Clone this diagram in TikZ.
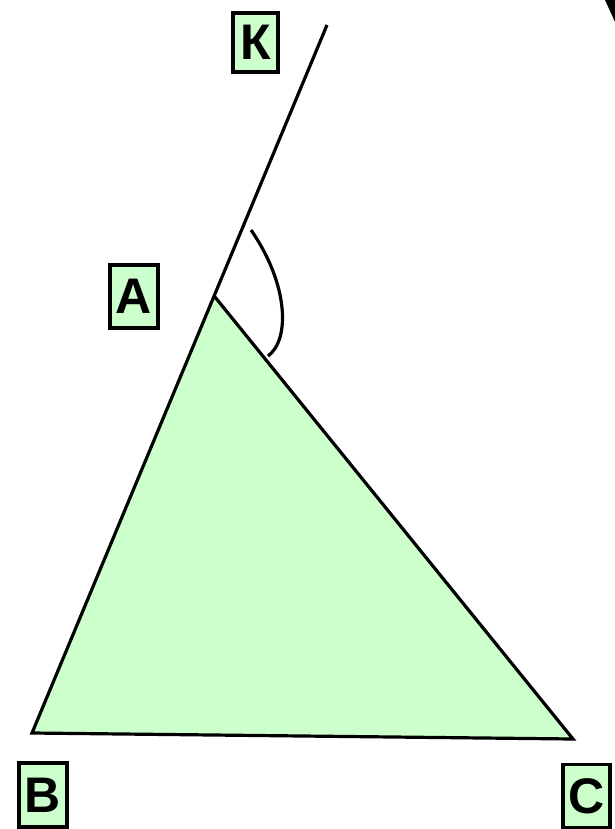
\documentclass[tikz,border=0pt]{standalone}
\usepackage{fontspec}
\setmainfont{Liberation Sans}
\definecolor{lg}{HTML}{CCFFCC}
\begin{document}
\begin{tikzpicture}[x=1pt,y=-1pt,
  lbl/.style={draw=black,fill=lg,line width=3.2pt,inner sep=0pt,font=\fontsize{50}{50}\selectfont\bfseries},
  edge/.style={line width=3.2pt,line join=miter}]
\useasboundingbox (0,0) rectangle (615,829);
\coordinate (A) at (215,297);
\coordinate (B) at (32,733);
\coordinate (C) at (573,739);
\coordinate (K) at (327,25);
\coordinate (a1) at (251,230);
\coordinate (a2) at (268,356);
\fill[lg] (A) -- (B) -- (C) -- cycle;
\draw[edge] (K) -- (B) -- (C) -- (A);
\draw[line width=3.2pt] (a1) .. controls (289,285) and (290,340) .. (a2);
\fill[black] (605,0) -- (615,0) -- (615,22) -- cycle;
\node[lbl,minimum width=45pt,minimum height=59pt] (lK) at (255.5,42.5) {К};
\node[lbl,minimum width=48pt,minimum height=63pt] (lA) at (134,296.5) {А};
\node[lbl,minimum width=48pt,minimum height=64pt] (lB) at (43,795) {В};
\node[lbl,minimum width=47pt,minimum height=63pt] (lC) at (586.5,796) {С};
\end{tikzpicture}
\end{document}
